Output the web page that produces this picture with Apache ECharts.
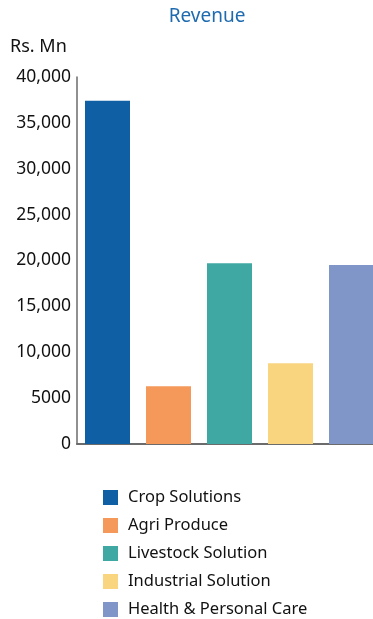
<!DOCTYPE html>
<html><head><meta charset="utf-8">
<script src="https://cdn.jsdelivr.net/npm/echarts@6/dist/echarts.min.js"></script>
<style>html,body{margin:0;padding:0;background:#fff}#c{width:373px;height:619px}</style>
</head><body><div id="c"></div>
<script>
const categories = ["Crop Solutions", "Agri Produce", "Livestock Solution", "Industrial Solution", "Health & Personal Care"];
const revenue = [37400, 6300, 19700, 8800, 19500];
const colors = ["#0e5fa3", "#f4995a", "#40a8a3", "#fad580", "#8096c8"];
const yTicks = [0, 5000, 10000, 15000, 20000, 25000, 30000, 35000, 40000];

const font = "'Noto Sans', 'Open Sans', sans-serif";
const chart = echarts.init(document.getElementById('c'));
const series = categories.map((name, i) => ({
  name: name,
  type: 'bar',
  stack: 'all',
  barWidth: 45,
  itemStyle: { color: colors[i] },
  data: categories.map((c, j) => j === i ? revenue[i] : null)
}));
chart.setOption({
  animation: false,
  title: { text: 'Revenue', left: 202, textAlign: 'center', top: 2,
    textStyle: { color: '#1f6bb0', fontSize: 19, fontWeight: 'normal', fontFamily: font } },
  graphic: [{ type: 'text', left: 10, top: 38,
    style: { text: 'Rs. Mn', fontSize: 18, fill: '#111', fontFamily: font } }],
  legend: {
    orient: 'vertical', left: 103, top: 489, padding: 0, height: 200,
    itemWidth: 15, itemHeight: 15, itemGap: 11,
    icon: 'rect',
    textStyle: { fontSize: 16.5, color: '#111', fontFamily: font, padding: [0, 0, 0, 5] },
    data: categories
  },
  grid: { left: 77, top: 77, right: -9, height: 367, containLabel: false, outerBoundsMode: 'none' },
  xAxis: { type: 'category', data: categories,
    axisLine: { lineStyle: { color: '#6b6b6b', width: 2 } },
    axisTick: { show: false }, axisLabel: { show: false } },
  yAxis: { type: 'value', min: 0, max: 40000, interval: 5000,
    axisLine: { show: true, lineStyle: { color: '#6b6b6b', width: 1.5 } },
    axisTick: { show: false }, splitLine: { show: false },
    axisLabel: { fontSize: 17.5, color: '#111', fontFamily: font, margin: 6,
      formatter: v => v >= 10000 ? v.toLocaleString('en-US') : String(v) } },
  series: series
});
</script></body></html>
